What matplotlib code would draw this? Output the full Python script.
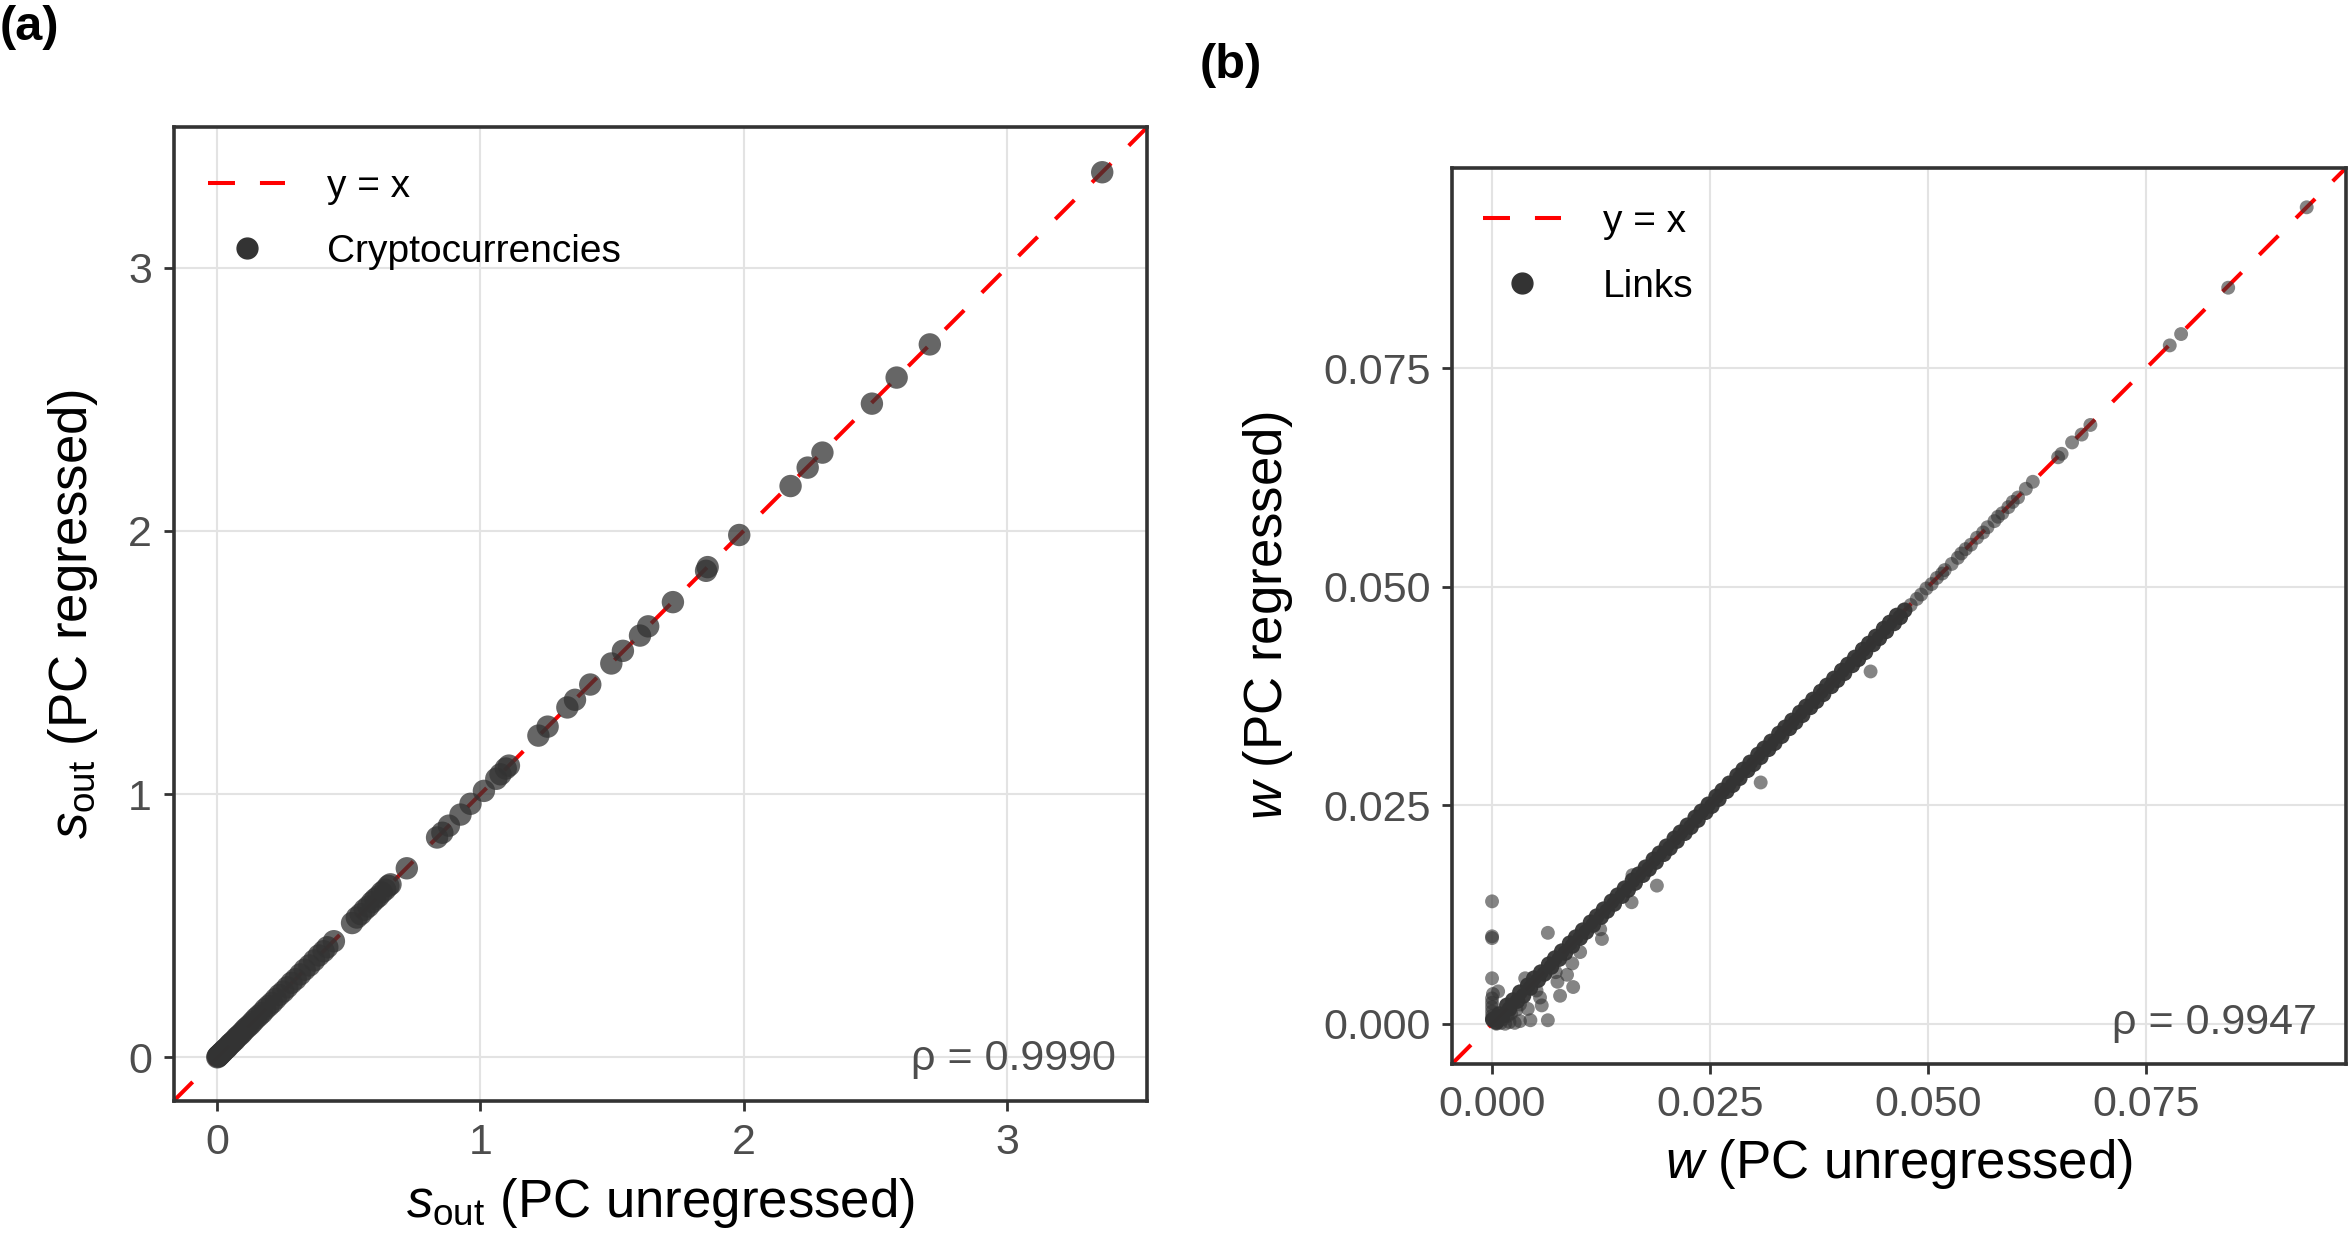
import matplotlib
matplotlib.use("Agg")
import matplotlib.pyplot as plt
from matplotlib.lines import Line2D

plt.rcParams["font.family"] = ["Liberation Sans", "DejaVu Sans"]
plt.rcParams["mathtext.fontset"] = "custom"
plt.rcParams["mathtext.rm"] = "Liberation Sans"
plt.rcParams["mathtext.it"] = "Liberation Sans:italic"
plt.rcParams["mathtext.bf"] = "Liberation Sans:bold"

# ---- panel (a): out-strength of each cryptocurrency ----
s_unreg = [
    0.000, 0.002, 0.004, 0.006, 0.009, 0.012, 0.015, 0.019, 0.023, 0.027, 0.032,
    0.037, 0.042, 0.048, 0.054, 0.060, 0.067, 0.074, 0.082, 0.090, 0.098, 0.107,
    0.116, 0.126, 0.136, 0.147, 0.158, 0.170, 0.182, 0.195, 0.208, 0.222, 0.236,
    0.251, 0.266, 0.282, 0.298, 0.315, 0.332, 0.350, 0.368, 0.386, 0.404, 0.418,
    0.443, 0.512, 0.530, 0.545, 0.560, 0.574, 0.588, 0.600, 0.612, 0.625, 0.638,
    0.650, 0.658,
    0.720, 0.835, 0.855, 0.880, 0.924, 0.962, 1.013, 1.060, 1.076, 1.096, 1.108,
    1.220, 1.255, 1.330, 1.359, 1.417, 1.497, 1.541, 1.606, 1.637, 1.731, 1.857,
    1.863, 1.983, 2.178, 2.243, 2.299, 2.487, 2.581, 2.707, 3.362,
]
s_reg = [
    0.000, 0.003, 0.004, 0.007, 0.009, 0.012, 0.016, 0.019, 0.023, 0.028, 0.032,
    0.036, 0.042, 0.049, 0.054, 0.060, 0.066, 0.075, 0.082, 0.089, 0.098, 0.108,
    0.116, 0.125, 0.136, 0.148, 0.158, 0.169, 0.183, 0.195, 0.207, 0.222, 0.237,
    0.250, 0.266, 0.283, 0.297, 0.315, 0.333, 0.349, 0.368, 0.387, 0.403, 0.418,
    0.441, 0.510, 0.531, 0.544, 0.561, 0.573, 0.589, 0.601, 0.611, 0.626, 0.637,
    0.651, 0.657,
    0.718, 0.835, 0.853, 0.880, 0.922, 0.963, 1.012, 1.058, 1.075, 1.097, 1.108,
    1.222, 1.256, 1.329, 1.358, 1.416, 1.496, 1.544, 1.602, 1.637, 1.729, 1.848,
    1.862, 1.984, 2.170, 2.240, 2.297, 2.483, 2.582, 2.708, 3.362,
]
rho_a = "ρ = 0.9990"

# ---- panel (b): link weights ----
# dense part along the diagonal (thousands of overlapping links)
w_band_unreg = [
    0.0001, 0.0005, 0.0008, 0.0012, 0.0017, 0.0020, 0.0024, 0.0029, 0.0032, 0.0036,
    0.0041, 0.0044, 0.0048, 0.0053, 0.0056, 0.0060, 0.0065, 0.0068, 0.0072, 0.0077,
    0.0080, 0.0084, 0.0089, 0.0092, 0.0096, 0.0101, 0.0104, 0.0108, 0.0113, 0.0116,
    0.0120, 0.0125, 0.0128, 0.0132, 0.0137, 0.0140, 0.0144, 0.0149, 0.0152, 0.0156,
    0.0161, 0.0164, 0.0168, 0.0173, 0.0176, 0.0180, 0.0185, 0.0188, 0.0192, 0.0197,
    0.0200, 0.0204, 0.0209, 0.0212, 0.0216, 0.0221, 0.0224, 0.0228, 0.0233, 0.0236,
    0.0240, 0.0245, 0.0248, 0.0252, 0.0257, 0.0260, 0.0264, 0.0269, 0.0272, 0.0276,
    0.0281, 0.0284, 0.0288, 0.0293, 0.0296, 0.0300, 0.0305, 0.0308, 0.0312, 0.0317,
    0.0320, 0.0324, 0.0329, 0.0332, 0.0336, 0.0341, 0.0344, 0.0348, 0.0353, 0.0356,
    0.0360, 0.0365, 0.0368, 0.0372, 0.0377, 0.0380, 0.0384, 0.0389, 0.0392, 0.0396,
    0.0401, 0.0404, 0.0408, 0.0413, 0.0416, 0.0420, 0.0425, 0.0428, 0.0432, 0.0437,
    0.0440, 0.0444, 0.0449, 0.0452, 0.0456, 0.0461, 0.0464, 0.0468, 0.0473,
]
w_band_reg = [
    0.0005, 0.0002, 0.0011, 0.0009, 0.0021, 0.0017, 0.0027, 0.0026, 0.0036, 0.0032,
    0.0044, 0.0041, 0.0052, 0.0050, 0.0059, 0.0057, 0.0068, 0.0065, 0.0075, 0.0074,
    0.0083, 0.0081, 0.0092, 0.0089, 0.0099, 0.0098, 0.0107, 0.0105, 0.0116, 0.0113,
    0.0123, 0.0122, 0.0131, 0.0129, 0.0140, 0.0137, 0.0147, 0.0146, 0.0155, 0.0153,
    0.0164, 0.0161, 0.0171, 0.0170, 0.0179, 0.0177, 0.0188, 0.0185, 0.0195, 0.0194,
    0.0203, 0.0201, 0.0212, 0.0209, 0.0219, 0.0218, 0.0227, 0.0225, 0.0236, 0.0233,
    0.0243, 0.0242, 0.0251, 0.0249, 0.0260, 0.0257, 0.0267, 0.0266, 0.0275, 0.0273,
    0.0284, 0.0281, 0.0291, 0.0290, 0.0299, 0.0297, 0.0308, 0.0305, 0.0315, 0.0314,
    0.0323, 0.0321, 0.0332, 0.0329, 0.0339, 0.0338, 0.0347, 0.0345, 0.0356, 0.0353,
    0.0363, 0.0362, 0.0371, 0.0369, 0.0380, 0.0377, 0.0387, 0.0386, 0.0395, 0.0393,
    0.0404, 0.0401, 0.0411, 0.0410, 0.0419, 0.0417, 0.0428, 0.0425, 0.0435, 0.0434,
    0.0443, 0.0441, 0.0452, 0.0449, 0.0459, 0.0458, 0.0467, 0.0465, 0.0473,
]
# strongest links, sparse along the diagonal
w_tail_unreg = [
    0.0480, 0.0487, 0.0492, 0.0498, 0.0504, 0.0510, 0.0516, 0.0519, 0.0527, 0.0534,
    0.0538, 0.0543, 0.0549, 0.0556, 0.0563, 0.0568, 0.0576, 0.0580, 0.0585, 0.0592,
    0.0597, 0.0603, 0.0612, 0.0620, 0.0649, 0.0653, 0.0665, 0.0676, 0.0686, 0.0777,
    0.0790, 0.0844, 0.0934,
]
w_tail_reg = [
    0.0479, 0.0486, 0.0491, 0.0498, 0.0503, 0.0510, 0.0515, 0.0519, 0.0526, 0.0533,
    0.0538, 0.0543, 0.0548, 0.0556, 0.0562, 0.0568, 0.0575, 0.0580, 0.0584, 0.0591,
    0.0597, 0.0602, 0.0612, 0.0620, 0.0648, 0.0652, 0.0665, 0.0674, 0.0685, 0.0776,
    0.0789, 0.0842, 0.0934,
]
# weak links that move off the diagonal
w_off_unreg = [
    0.0000, 0.0000, 0.0000, 0.0000, 0.0000, 0.0000, 0.0001, 0.0000, 0.0000, 0.0000,
    0.0000, 0.0007, 0.0005, 0.0010, 0.0015, 0.0020, 0.0026, 0.0032, 0.0044, 0.0064,
    0.0041, 0.0032, 0.0057, 0.0055, 0.0051, 0.0038, 0.0078, 0.0075, 0.0073, 0.0093,
    0.0086, 0.0092, 0.0101, 0.0064, 0.0124, 0.0126, 0.0161, 0.0160, 0.0189, 0.0308,
    0.0434, 0.0012, 0.0018, 0.0022, 0.0028,
]
w_off_reg = [
    0.0004, 0.0009, 0.0014, 0.0019, 0.0024, 0.0029, 0.0034, 0.0052, 0.0098, 0.0100,
    0.0140, 0.0037, 0.0000, 0.0001, 0.0000, 0.0002, 0.0001, 0.0003, 0.0004, 0.0004,
    0.0017, 0.0022, 0.0021, 0.0030, 0.0038, 0.0052, 0.0032, 0.0048, 0.0059, 0.0042,
    0.0056, 0.0069, 0.0082, 0.0104, 0.0108, 0.0097, 0.0170, 0.0139, 0.0158, 0.0276,
    0.0403, 0.0005, 0.0009, 0.0012, 0.0016,
]
rho_b = "ρ = 0.9947"

ticks_a = [0, 1, 2, 3]
tick_labels_a = ["0", "1", "2", "3"]
ticks_b = [0.0, 0.025, 0.05, 0.075]
tick_labels_b = ["0.000", "0.025", "0.050", "0.075"]

POINT = "#333333"
TICK_TEXT = "#4d4d4d"
GRID = "#e3e3e3"
DASH = (0, (6.7, 6.2))


def style_axes(ax, ticks, tick_labels, lims):
    ax.set_xlim(lims)
    ax.set_ylim(lims)
    ax.set_xticks(ticks, tick_labels)
    ax.set_yticks(ticks, tick_labels)
    ax.grid(True, color=GRID, linewidth=1.5, zorder=0)
    ax.set_axisbelow(True)
    for sp in ax.spines.values():
        sp.set_color("#333333")
        sp.set_linewidth(2.6)
    ax.tick_params(length=7.5, width=2.0, color="#333333", labelcolor=TICK_TEXT,
                   labelsize=31, pad=8)


def add_legend(ax, label, anchor):
    handles = [
        Line2D([], [], color="red", linestyle=DASH, linewidth=2.9),
        Line2D([], [], color=POINT, marker="o", linestyle="none", markersize=15),
    ]
    ax.legend(handles, ["y = x", label], loc="upper left", bbox_to_anchor=anchor,
              frameon=False, fontsize=28, handlelength=2.0, handletextpad=1.08,
              labelspacing=0.75, borderaxespad=0, borderpad=0)


fig = plt.figure(figsize=(23.49, 12.35), dpi=100)

# panel (a)
ax1 = fig.add_axes([0.0739, 0.1085, 0.4146, 0.7887])
ax1.axline((0, 0), slope=1, color="red", linestyle=DASH, linewidth=2.9, zorder=1)
ax1.scatter(s_unreg, s_reg, s=260, color=POINT, alpha=0.75, edgecolors="none", zorder=2)
style_axes(ax1, ticks_a, tick_labels_a, (-0.166, 3.534))
ax1.set_xlabel(r"$s_{\mathrm{out}}$ (PC unregressed)", fontsize=38, labelpad=10)
ax1.set_ylabel(r"$s_{\mathrm{out}}$ (PC regressed)", fontsize=38, labelpad=20)
ax1.text(0.968, 0.043, rho_a, transform=ax1.transAxes, ha="right", va="center",
         fontsize=31, color=TICK_TEXT)
add_legend(ax1, "Cryptocurrencies", (0.035, 0.957))

# panel (b)
ax2 = fig.add_axes([0.6181, 0.1385, 0.3806, 0.7255])
ax2.axline((0, 0), slope=1, color="red", linestyle=DASH, linewidth=2.9, zorder=1)
ax2.scatter(w_band_unreg, w_band_reg, s=128, color=POINT, alpha=0.95,
            edgecolors="none", zorder=2)
ax2.scatter(w_tail_unreg + w_off_unreg, w_tail_reg + w_off_reg,
            s=100, color=POINT, alpha=0.6, edgecolors="none", zorder=3)
style_axes(ax2, ticks_b, tick_labels_b, (-0.0046, 0.0979))
ax2.set_xlabel(r"$w$ (PC unregressed)", fontsize=38, labelpad=8)
ax2.set_ylabel(r"$w$ (PC regressed)", fontsize=38, labelpad=20)
ax2.text(0.968, 0.046, rho_b, transform=ax2.transAxes, ha="right", va="center",
         fontsize=31, color=TICK_TEXT)
add_legend(ax2, "Links", (0.035, 0.96))

fig.text(0.0, 0.978, "(a)", fontsize=35, fontweight="bold", ha="left", va="center")
fig.text(0.5105, 0.947, "(b)", fontsize=35, fontweight="bold", ha="left", va="center")

fig.savefig("out.png", dpi=100)
